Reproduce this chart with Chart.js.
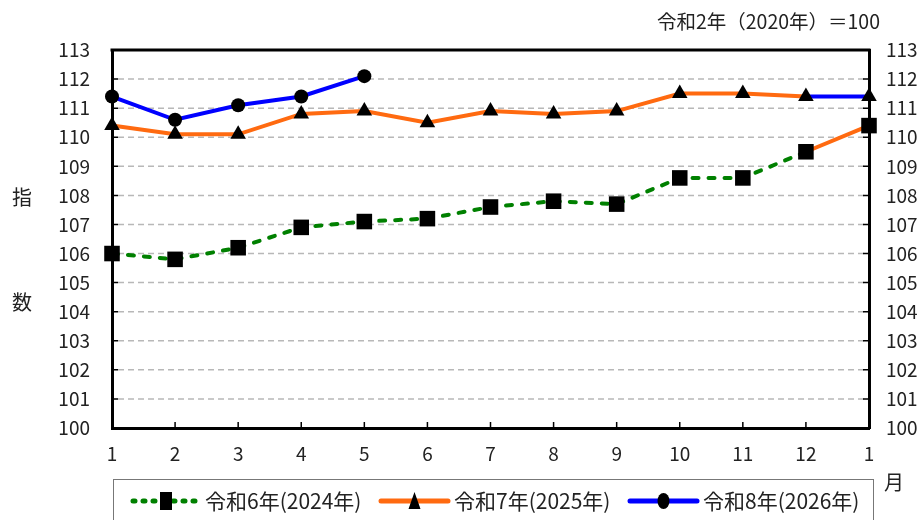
<!DOCTYPE html>
<html>
<head>
<meta charset="utf-8">
<script src="https://cdn.jsdelivr.net/npm/chart.js@4.4.1/dist/chart.umd.min.js"></script>
<style>
body { margin: 0; background: #fff; }
</style>
</head>
<body>
<canvas id="myChart" width="923" height="520"></canvas>
<script>
// x positions: Jan..Dec, then Jan of next year
var months = ['1', '2', '3', '4', '5', '6', '7', '8', '9', '10', '11', '12', '1'];
var r6 = [106.0, 105.8, 106.2, 106.9, 107.1, 107.2, 107.6, 107.8, 107.7, 108.6, 108.6, 109.5, 110.4];
var r7 = [110.4, 110.1, 110.1, 110.8, 110.9, 110.5, 110.9, 110.8, 110.9, 111.5, 111.5, 111.4, 111.4];
var r8 = [111.4, 110.6, 111.1, 111.4, 112.1];
var seriesNames = ['令和6年(2024年)', '令和7年(2025年)', '令和8年(2026年)'];
var yMin = 100, yMax = 113;

var GREEN = '#008000', ORANGE = '#ff6a10', BLUE = '#0000ff';
var FONT = "'Noto Sans CJK JP', 'Noto Sans', sans-serif";
var TXT = '#222';

var decor = {
    id: 'decor',
    beforeDatasetsDraw: function (chart) {
        // dashed horizontal gridlines
        var ctx = chart.ctx;
        var a = chart.chartArea;
        var ys = chart.scales.y;
        ctx.save();
        ctx.strokeStyle = '#b8b8b8';
        ctx.lineWidth = 1.5;
        ctx.setLineDash([6, 4]);
        ys.ticks.forEach(function (t, i) {
            if (t.value === yMin || t.value === yMax) return;
            var y = ys.getPixelForTick(i);
            ctx.beginPath();
            ctx.moveTo(a.left + 6, y);
            ctx.lineTo(a.right - 2, y);
            ctx.stroke();
        });
        ctx.restore();
    },
    afterDraw: function (chart) {
        var ctx = chart.ctx;
        var a = chart.chartArea;
        var xs = chart.scales.x, ys = chart.scales.y;
        ctx.save();
        // top frame line
        ctx.strokeStyle = '#000';
        ctx.lineWidth = 3;
        ctx.beginPath();
        ctx.moveTo(a.left - 1.5, a.top);
        ctx.lineTo(a.right + 1.5, a.top);
        ctx.stroke();
        // inward tick marks
        ctx.lineWidth = 1.5;
        ctx.beginPath();
        ys.ticks.forEach(function (t, i) {
            var y = ys.getPixelForTick(i);
            ctx.moveTo(a.left, y); ctx.lineTo(a.left + 6, y);
            ctx.moveTo(a.right, y); ctx.lineTo(a.right - 6, y);
        });
        xs.ticks.forEach(function (t, i) {
            var x = xs.getPixelForTick(i);
            ctx.moveTo(x, a.bottom); ctx.lineTo(x, a.bottom - 6);
        });
        ctx.stroke();

        // texts
        ctx.fillStyle = TXT;
        ctx.textBaseline = 'middle';
        ctx.font = '20px ' + FONT;
        ctx.textAlign = 'center';
        ctx.fillText('指', 22, 197);
        ctx.fillText('数', 22, 302);
        ctx.fillText('月', 894, 482);
        ctx.textAlign = 'right';
        ctx.font = '19.5px ' + FONT;
        ctx.fillText('令和2年（2020年）＝100', 880, 22);

        // legend
        ctx.strokeStyle = '#777';
        ctx.lineWidth = 1;
        ctx.strokeRect(113.5, 479.5, 760, 60);
        var ly = 501;
        var items = [
            { x0: 133, x1: 199, color: GREEN, dash: [2, 8], mark: 'rect' },
            { x0: 381, x1: 448, color: ORANGE, dash: [], mark: 'tri' },
            { x0: 630, x1: 697, color: BLUE, dash: [], mark: 'circle' }
        ];
        ctx.font = '21px ' + FONT;
        ctx.textAlign = 'left';
        items.forEach(function (it, i) {
            ctx.strokeStyle = it.color;
            ctx.lineWidth = 5;
            ctx.lineCap = 'round';
            ctx.setLineDash(it.dash);
            ctx.beginPath();
            ctx.moveTo(it.x0, ly); ctx.lineTo(it.x1, ly);
            ctx.stroke();
            ctx.setLineDash([]);
            var cx = (it.x0 + it.x1) / 2;
            ctx.fillStyle = '#000';
            ctx.beginPath();
            if (it.mark === 'rect') {
                ctx.rect(cx - 6, ly - 9, 12, 18);
            } else if (it.mark === 'tri') {
                ctx.moveTo(cx, ly - 9); ctx.lineTo(cx + 6, ly + 8); ctx.lineTo(cx - 6, ly + 8);
                ctx.closePath();
            } else {
                ctx.ellipse(cx, ly, 6, 8, 0, 0, Math.PI * 2);
            }
            ctx.fill();
            ctx.fillStyle = TXT;
            ctx.fillText(seriesNames[i], it.x1 + 6, ly);
        });
        ctx.restore();
    }
};

var ctx = document.getElementById('myChart').getContext('2d');
var myChart = new Chart(ctx, {
    type: 'line',
    data: {
        labels: months,
        datasets: [{
            label: seriesNames[0],
            data: r6,
            order: 2,
            borderColor: GREEN,
            borderWidth: 4,
            borderDash: [6, 10],
            borderCapStyle: 'round',
            segment: {
                borderColor: function (c) { return c.p1DataIndex === 12 ? ORANGE : undefined; },
                borderDash: function (c) { return c.p1DataIndex === 12 ? [] : undefined; }
            },
            pointStyle: 'rect',
            pointRadius: 11,
            pointBackgroundColor: '#000',
            pointBorderColor: '#000',
            pointBorderWidth: 0
        }, {
            label: seriesNames[1],
            data: r7,
            order: 1,
            borderColor: ORANGE,
            borderWidth: 4,
            segment: {
                borderColor: function (c) { return c.p1DataIndex === 12 ? BLUE : undefined; }
            },
            pointStyle: 'triangle',
            pointRadius: 9,
            pointBackgroundColor: '#000',
            pointBorderColor: '#000',
            pointBorderWidth: 0
        }, {
            label: seriesNames[2],
            data: r8,
            order: 0,
            borderColor: BLUE,
            borderWidth: 4,
            pointStyle: 'circle',
            pointRadius: 7,
            pointBackgroundColor: '#000',
            pointBorderColor: '#000',
            pointBorderWidth: 0
        }]
    },
    options: {
        responsive: false,
        animation: false,
        layout: { padding: { top: 50, left: 0, right: 0, bottom: 0 } },
        plugins: {
            legend: { display: false },
            tooltip: { enabled: false }
        },
        scales: {
            x: {
                offset: false,
                border: { color: '#000', width: 3 },
                grid: { display: false, drawTicks: false },
                ticks: {
                    autoSkip: false, maxRotation: 0, padding: 14,
                    color: TXT, font: { family: FONT, size: 19 }
                },
                afterFit: function (s) { s.height = 92; }
            },
            y: {
                position: 'left',
                min: yMin, max: yMax,
                border: { color: '#000', width: 3 },
                grid: { display: false, drawTicks: false },
                ticks: {
                    stepSize: 1, padding: 22,
                    color: TXT, font: { family: FONT, size: 19 }
                },
                afterFit: function (s) { s.width = 112; }
            },
            y2: {
                position: 'right',
                min: yMin, max: yMax,
                border: { color: '#000', width: 3 },
                grid: { display: false, drawTicks: false },
                ticks: {
                    stepSize: 1, padding: 17,
                    color: TXT, font: { family: FONT, size: 19 }
                },
                afterFit: function (s) { s.width = 54; }
            }
        }
    },
    plugins: [decor]
});
</script>
</body>
</html>
